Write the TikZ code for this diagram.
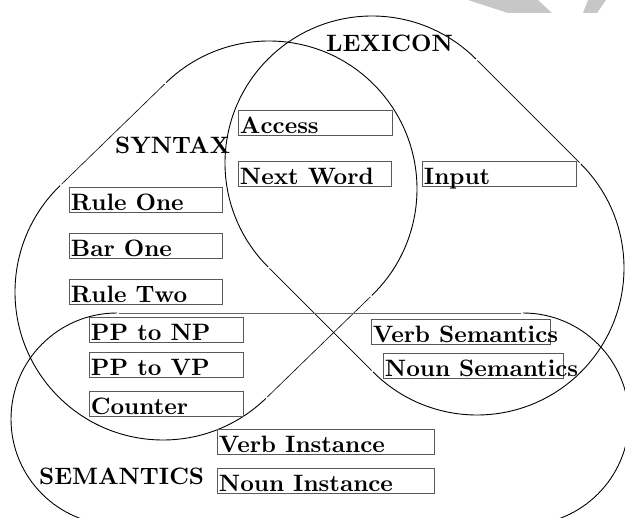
\documentclass[tikz,border=0pt]{standalone}
\font\cellfont=cmbx10 at 23.7pt
\begin{document}
\begin{tikzpicture}
  [
  x=1pt, y=-1pt,
  every node/.style={font=\cellfont},
  rim/.style={draw=black, line width=0.9pt},
  edge/.style={draw=black, line width=0.6pt, shorten <=2pt, shorten >=2pt},
  cell/.style={draw=black!65, line width=0.9pt, anchor=north west,
    inner xsep=1.5pt, inner ysep=0pt, text width=#1, align=left,
    text height=23pt, text depth=2.5pt},
  title/.style={anchor=base west, inner sep=0pt},
  ]
  \useasboundingbox (0,0) rectangle (625,518);
  \clip (0,0) rectangle (625,518);
  % watermark remains
  \fill[black!22] (468,0) -- (538,0) -- (552,13) -- (508,13) -- cycle;
  \fill[black!22] (588,0) -- (606,0) -- (597,13) -- (583,13) -- cycle;
  \def\rbig{148}
  \def\rsem{106}
  % syntax
  \coordinate (synU) at (269,189);
  \coordinate (synL) at (163,292);
  \draw[rim] (synU) ++(-134:\rbig) coordinate (synA)
    arc[start angle=-134, end angle=46, radius=\rbig] coordinate (synB);
  \draw[rim] (synL) ++(46:\rbig) coordinate (synC)
    arc[start angle=46, end angle=226, radius=\rbig] coordinate (synD);
  \draw[edge] (synB) -- (synC);
  \draw[edge] (synD) -- (synA);
  % lexicon
  \coordinate (lexU) at (372,163);
  \coordinate (lexR) at (477,268);
  \draw[rim] (lexU) ++(135:147) coordinate (lexA)
    arc[start angle=135, end angle=315, radius=147] coordinate (lexB);
  \draw[rim] (lexR) ++(-45:147) coordinate (lexC)
    arc[start angle=-45, end angle=135, radius=147] coordinate (lexD);
  \draw[edge] (lexB) -- (lexC);
  \draw[edge] (lexD) -- (lexA);
  % semantics
  \coordinate (semL) at (117,419);
  \coordinate (semR) at (523,419);
  \draw[rim] (semL) ++(90:\rsem) coordinate (semA)
    arc[start angle=90, end angle=270, radius=\rsem] coordinate (semB);
  \draw[rim] (semR) ++(-90:\rsem) coordinate (semC)
    arc[start angle=-90, end angle=90, radius=\rsem] coordinate (semD);
  \draw[edge, draw=black!60, line width=0.8pt] (semB) -- (semC);
  \draw[edge] (semD) -- (semA);

  \node[title] (lexicon) at (326,52) {LEXICON};
  \node[title] (syntax) at (115,154) {SYNTAX};
  \node[title] (semantics) at (39,485) {SEMANTICS};

  \node[cell=151pt] (access) at (238,110) {Access};
  \node[cell=150pt] (nextword) at (238,161) {Next Word};
  \node[cell=151pt] (input) at (422,161) {Input};
  \node[cell=150pt] (ruleone) at (69,187) {Rule One};
  \node[cell=150pt] (barone) at (69,233) {Bar One};
  \node[cell=150pt] (ruletwo) at (69,279) {Rule Two};
  \node[cell=151pt] (pptonp) at (89,317) {PP to NP};
  \node[cell=151pt] (pptovp) at (89,352) {PP to VP};
  \node[cell=151pt] (counter) at (89,391) {Counter};
  \node[cell=176pt] (verbsem) at (371,319) {\mbox{Verb Semantics}};
  \node[cell=177pt] (nounsem) at (383,353) {\mbox{Noun Semantics}};
  \node[cell=214pt] (verbinst) at (217,429) {Verb Instance};
  \node[cell=214pt] (nouninst) at (217,468) {Noun Instance};
\end{tikzpicture}
\end{document}
